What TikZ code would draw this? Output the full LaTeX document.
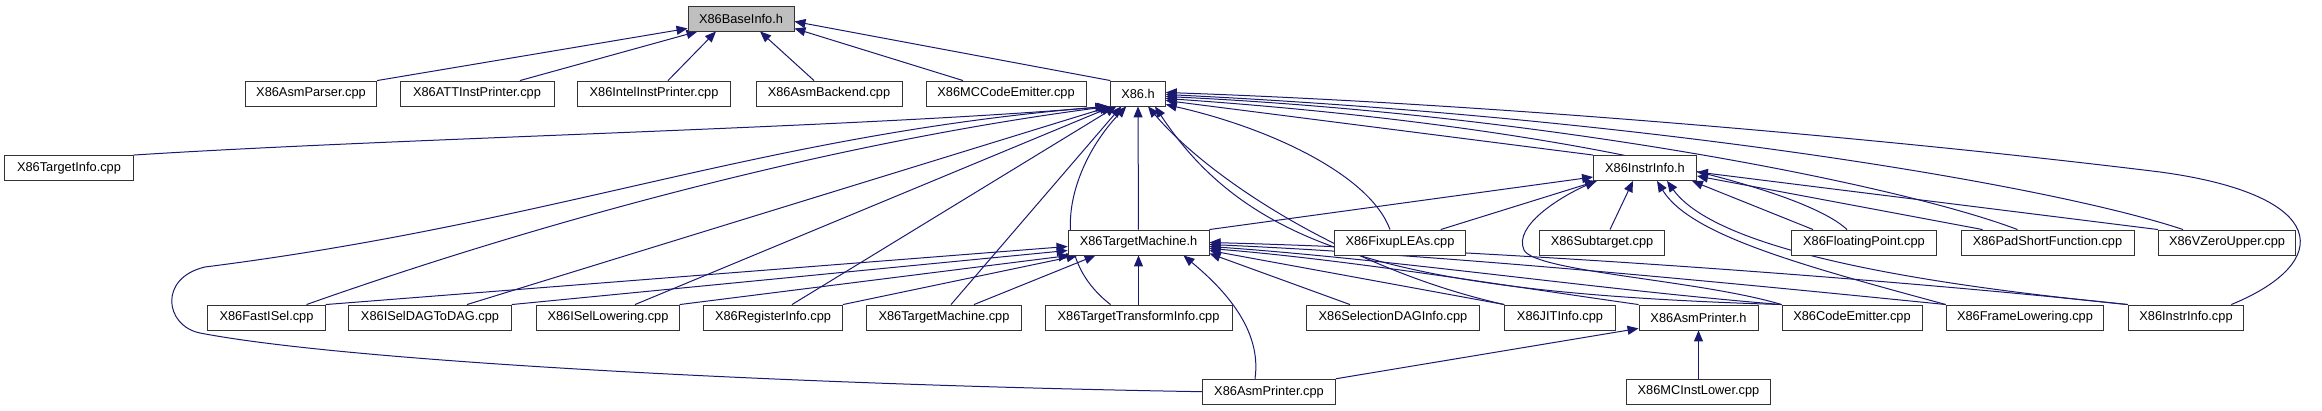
\documentclass[tikz,border=0pt]{standalone}
\usepackage{fontspec}
\setmainfont{Liberation Sans}
\usetikzlibrary{arrows.meta,calc}
\pgfdeclarelayer{bg}
\pgfsetlayers{bg,main}
\definecolor{edgeblue}{HTML}{191970}
\definecolor{basegray}{HTML}{BFBFBF}
\tikzset{
  nd/.style={draw=black!80, line width=0.9pt, fill=white, minimum height=25pt, inner sep=0pt,
    font=\fontsize{12.8}{14}\selectfont},
  e/.style={draw=edgeblue, line width=1pt, -{Triangle[length=11pt,width=9pt]}}
}
\begin{document}
\begin{tikzpicture}[x=1pt,y=-1pt]
\useasboundingbox (0,0) rectangle (2322,411);
% row 0
\node[nd, fill=basegray, minimum width=106pt] (BaseInfo) at (741,18.5) {X86BaseInfo.h};
% row 1
\node[nd, minimum width=131.5pt] (AsmParser) at (311,93.5) {X86AsmParser.cpp};
\node[nd, minimum width=154pt] (ATT) at (477,93.5) {X86ATTInstPrinter.cpp};
\node[nd, minimum width=153.6pt] (Intel) at (654,93.5) {X86IntelInstPrinter.cpp};
\node[nd, minimum width=146pt] (AsmBackend) at (829,93.5) {X86AsmBackend.cpp};
\node[nd, minimum width=160pt] (MCCodeEmitter) at (1006,93.5) {X86MCCodeEmitter.cpp};
\node[nd, minimum width=54.5pt] (X86h) at (1138,93.5) {X86.h};
% row 2
\node[nd, minimum width=128.5pt] (TargetInfo) at (69,168) {X86TargetInfo.cpp};
\node[nd, minimum width=103pt] (InstrInfoH) at (1645,168) {X86InstrInfo.h};
% row 3
\node[nd, minimum width=141pt] (TMh) at (1138.5,242.5) {X86TargetMachine.h};
\node[nd, minimum width=130.5pt] (FixupLEAs) at (1400,242.5) {X86FixupLEAs.cpp};
\node[nd, minimum width=125pt] (Subtarget) at (1602,242.5) {X86Subtarget.cpp};
\node[nd, minimum width=145pt] (FloatingPoint) at (1864,242.5) {X86FloatingPoint.cpp};
\node[nd, minimum width=173pt] (PadShort) at (2047.5,242.5) {X86PadShortFunction.cpp};
\node[nd, minimum width=137pt] (VZeroUpper) at (2227,242.5) {X86VZeroUpper.cpp};
% row 4
\node[nd, minimum width=117.5pt] (FastISel) at (266.5,317.5) {X86FastISel.cpp};
\node[nd, minimum width=162.6pt] (ISelDAG) at (430,317.5) {X86ISelDAGToDAG.cpp};
\node[nd, minimum width=142.5pt] (ISelLowering) at (608,317.5) {X86ISelLowering.cpp};
\node[nd, minimum width=139pt] (RegisterInfo) at (773,317.5) {X86RegisterInfo.cpp};
\node[nd, minimum width=154.6pt] (TMcpp) at (944,317.5) {X86TargetMachine.cpp};
\node[nd, minimum width=187pt] (TTI) at (1138.5,317.5) {X86TargetTransformInfo.cpp};
\node[nd, minimum width=173pt] (SelDAG) at (1393,317.5) {X86SelectionDAGInfo.cpp};
\node[nd, minimum width=110.6pt] (JITInfo) at (1560,317.5) {X86JITInfo.cpp};
\node[nd, minimum width=119pt] (AsmPrinterH) at (1698.5,317.5) {X86AsmPrinter.h};
\node[nd, minimum width=140pt] (CodeEmitter) at (1852,317.5) {X86CodeEmitter.cpp};
\node[nd, minimum width=157.4pt] (FrameLowering) at (2025,317.5) {X86FrameLowering.cpp};
\node[nd, minimum width=115.6pt] (InstrInfoCpp) at (2186,317.5) {X86InstrInfo.cpp};
% row 5
\node[nd, minimum width=133pt] (AsmPrinterCpp) at (1269,391.7) {X86AsmPrinter.cpp};
\node[nd, minimum width=143.5pt] (MCInstLower) at (1698.5,391.7) {X86MCInstLower.cpp};

\begin{pgfonlayer}{bg}
% --- X86BaseInfo.h
\draw[e] (AsmParser.north east) -- ($(BaseInfo.south west)+(0,-3)$);
\draw[e] ($(ATT.north)+(43,0)$) -- ($(BaseInfo.south west)+(10,0)$);
\draw[e] ($(Intel.north)+(14,0)$) -- ($(BaseInfo.south)+(-25,0)$);
\draw[e] ($(AsmBackend.north)+(-15,0)$) -- ($(BaseInfo.south)+(19,0)$);
\draw[e] ($(MCCodeEmitter.north)+(-43,0)$) -- ($(BaseInfo.south east)+(0,-3)$);
\draw[e] (X86h.north west) -- ($(BaseInfo.east)+(0,3)$);
% --- X86.h from the left
\draw[e] (TargetInfo.north east) .. controls (400,138) and (850,128) .. ($(X86h.south west)+(-2,0)$);
\draw[e] ($(FastISel.north)+(40,0)$) .. controls (560,215) and (850,140) .. ($(X86h.south west)+(-1,0)$);
\draw[e] ($(ISelDAG.north)+(37,0)$) -- ($(X86h.south west)+(0,0)$);
\draw[e] ($(ISelLowering.north)+(27,0)$) -- ($(X86h.south west)+(2,0)$);
\draw[e] ($(RegisterInfo.north)+(19,0)$) -- ($(X86h.south west)+(6,0)$);
\draw[e] ($(TMcpp.north)+(7,0)$) -- ($(X86h.south west)+(11,0)$);
\draw[e] ($(TTI.north)+(-28,0)$) .. controls (1040,250) and (1075,160) .. ($(X86h.south west)+(16,0)$);
\draw[e] (TMh) -- (X86h);
\draw[e] (AsmPrinterCpp.west) .. controls (800,385) and (350,362) .. (200,333)
   .. controls (165,326) and (158,278) .. (205,267)
   .. controls (560,222) and (760,135) .. ($(X86h.south west)+(-4,0)$);
% --- X86.h from the right
\draw[e] (JITInfo.north west) .. controls (1350,270) and (1210,180) .. ($(X86h.south)+(10,0)$);
\draw[e] (CodeEmitter.north west) .. controls (1400,293) and (1250,250) .. ($(X86h.south)+(17,0)$);
\draw[e] ($(FixupLEAs.north)+(-10,0)$) .. controls (1370,175) and (1270,128) .. ($(X86h.south east)+(0,-2)$);
\draw[e] (InstrInfoH.north west) -- ($(X86h.east)+(0,7)$);
\draw[e] ($(FloatingPoint.north)+(-17,0)$) .. controls (1800,185) and (1550,125) .. ($(X86h.east)+(0,5)$);
\draw[e] ($(PadShort.north)+(-30,0)$) .. controls (1900,185) and (1550,115) .. ($(X86h.east)+(0,3)$);
\draw[e] ($(VZeroUpper.north)+(-44,0)$) .. controls (2050,185) and (1650,118) .. ($(X86h.east)+(0,1)$);
\draw[e] ($(InstrInfoCpp.north east)+(-13,0)$) .. controls (2335,262) and (2330,195) .. (2160,172)
   .. controls (1900,140) and (1500,104) .. ($(X86h.east)+(0,-1)$);
% --- X86InstrInfo.h
\draw[e] (TMh.north east) -- ($(InstrInfoH.west)+(0,9)$);
\draw[e] ($(FixupLEAs.north east)+(-25,0)$) -- ($(InstrInfoH.south west)+(4,0)$);
\draw[e] ($(Subtarget.north)+(8,0)$) -- ($(InstrInfoH.south)+(-12,0)$);
\draw[e] ($(FloatingPoint.north west)+(22,0)$) -- ($(InstrInfoH.south east)+(-5,0)$);
\draw[e] ($(PadShort.north west)+(22,0)$) -- ($(InstrInfoH.east)+(0,8)$);
\draw[e] (VZeroUpper.north west) -- ($(InstrInfoH.east)+(0,4)$);
\draw[e] (CodeEmitter.north west) .. controls (1700,280) and (1535,272) .. (1524,250)
   .. controls (1513,226) and (1560,197) .. ($(InstrInfoH.south west)+(3,0)$);
\draw[e] (FrameLowering.north west) .. controls (1800,265) and (1690,235) .. ($(InstrInfoH.south)+(12,0)$);
\draw[e] (InstrInfoCpp.north west) .. controls (1950,287) and (1720,255) .. ($(InstrInfoH.south)+(22,0)$);
% --- X86TargetMachine.h
\draw[e] (FastISel.north east) -- ($(TMh.west)+(0,4)$);
\draw[e] (ISelDAG.north east) -- ($(TMh.west)+(0,8)$);
\draw[e] (ISelLowering.north east) -- ($(TMh.south west)+(2,0)$);
\draw[e] (RegisterInfo.north east) -- ($(TMh.south west)+(10,0)$);
\draw[e] ($(TMcpp.north)+(30,0)$) -- ($(TMh.south west)+(28,0)$);
\draw[e] (TTI) -- (TMh);
\draw[e] ($(AsmPrinterCpp.north)+(-14,0)$) .. controls (1262,330) and (1225,290) .. ($(TMh.south east)+(-26,0)$);
\draw[e] ($(SelDAG.north)+(-43,0)$) -- ($(TMh.south east)+(0,-2)$);
\draw[e] (JITInfo.north west) -- ($(TMh.east)+(0,8)$);
\draw[e] (AsmPrinterH.north west) .. controls (1500,285) and (1350,260) .. ($(TMh.east)+(0,6)$);
\draw[e] (CodeEmitter.north west) .. controls (1600,290) and (1400,260) .. ($(TMh.east)+(0,4)$);
\draw[e] (FrameLowering.north west) .. controls (1750,285) and (1450,255) .. ($(TMh.east)+(0,2)$);
\draw[e] (InstrInfoCpp.north west) .. controls (1900,280) and (1500,250) .. ($(TMh.east)+(0,0)$);
% --- X86AsmPrinter.h
\draw[e] (AsmPrinterCpp.north east) -- ($(AsmPrinterH.south west)+(0,-2)$);
\draw[e] (MCInstLower) -- (AsmPrinterH);
\end{pgfonlayer}
\end{tikzpicture}
\end{document}
